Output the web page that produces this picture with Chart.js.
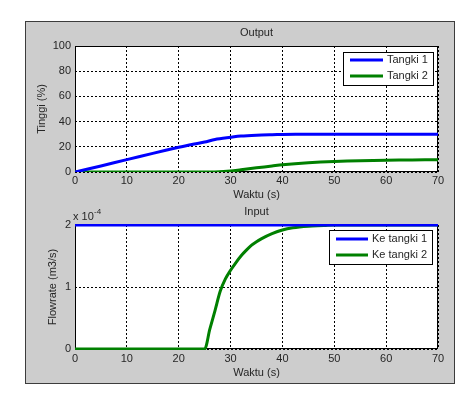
<!DOCTYPE html>
<html>
<head>
<meta charset="utf-8">
<script src="https://cdn.jsdelivr.net/npm/chart.js@4.4.1/dist/chart.umd.min.js"></script>
<style>
  body { margin: 0; background: #fff; width: 476px; height: 405px; position: relative; overflow: hidden; }
  #panel { position: absolute; left: 25px; top: 21px; width: 430px; height: 363px; box-sizing: border-box;
           background: #cdcdcd; border: 1px solid #3c3c3c; }
  .wrap { position: absolute; left: 25px; width: 429px; }
  #w1 { top: 21px; height: 182px; }
  #w2 { top: 203px; height: 180px; }
</style>
</head>
<body>
<div id="panel"></div>
<div class="wrap" id="w1"><canvas id="c1"></canvas></div>
<div class="wrap" id="w2"><canvas id="c2"></canvas></div>
<script>
// Output: time (s) and tank levels (%)
const waktu = [0, 5, 10, 15, 20, 23, 25, 27, 30, 32, 35, 38, 40, 45, 50, 55, 60, 65, 70];
const tangki1 = [0, 4.8, 9.8, 14.8, 19.6, 22.2, 23.8, 25.8, 27.5, 28.5, 29.2, 29.6, 29.8, 30, 30, 30, 30, 30, 30];
const tangki2 = [0, 0, 0, 0, 0, 0, 0, 0.1, 0.8, 1.8, 3.3, 4.8, 5.8, 7.3, 8.3, 8.9, 9.3, 9.6, 9.8];
// Input: time (s) and flowrates (m3/s)
const waktuIn = [0, 25, 26, 27, 28, 29, 30, 31, 32, 33, 34, 35, 36, 38, 40, 42, 45, 48, 50, 60, 70];
const keTangki1 = [2e-4, 2e-4, 2e-4, 2e-4, 2e-4, 2e-4, 2e-4, 2e-4, 2e-4, 2e-4, 2e-4, 2e-4, 2e-4, 2e-4, 2e-4, 2e-4, 2e-4, 2e-4, 2e-4, 2e-4, 2e-4];
const keTangki2 = [0, 0, 0.32e-4, 0.62e-4, 0.93e-4, 1.13e-4, 1.27e-4, 1.39e-4, 1.50e-4, 1.59e-4, 1.67e-4, 1.73e-4, 1.78e-4, 1.86e-4, 1.92e-4, 1.955e-4, 1.98e-4, 1.99e-4, 2e-4, 2e-4, 2e-4];
// ticks
const xTicks = [0, 10, 20, 30, 40, 50, 60, 70];
const yTicksOut = [0, 20, 40, 60, 80, 100];
const yTicksIn = [0, 1e-4, 2e-4];

const FONT = "'Liberation Sans', Arial, sans-serif";
const TXT = '#262626';

function pts(xs, ys) { return xs.map((x, i) => ({ x: x, y: ys[i] })); }

// white axes background + box, title, exponent, legend box inside the axes
const matlabAxes = {
  id: 'matlabAxes',
  beforeDraw(chart) {
    const a = chart.chartArea, ctx = chart.ctx;
    ctx.save();
    ctx.fillStyle = '#fff';
    ctx.fillRect(a.left, a.top, a.right - a.left, a.bottom - a.top);
    ctx.restore();
  },
  beforeDatasetsDraw(chart) {
    const a = chart.chartArea, ctx = chart.ctx;
    ctx.save();
    ctx.strokeStyle = '#000';
    ctx.lineWidth = 1;
    ctx.strokeRect(Math.round(a.left) + 0.5, Math.round(a.top) + 0.5, Math.round(a.right - a.left) - 1, Math.round(a.bottom - a.top) - 1);
    ctx.restore();
  },
  afterDraw(chart, args, o) {
    const a = chart.chartArea, ctx = chart.ctx;
    ctx.save();
    ctx.fillStyle = TXT;
    ctx.font = '11px ' + FONT;
    ctx.textAlign = 'center';
    ctx.textBaseline = 'middle';
    ctx.fillText(o.title, (a.left + a.right) / 2, o.titleY);
    if (o.exponent) {
      ctx.textAlign = 'left';
      ctx.textBaseline = 'alphabetic';
      ctx.fillText('x 10', a.left - 2, a.top - 5);
      ctx.font = '8px ' + FONT;
      ctx.fillText('-4', a.left + 19, a.top - 11);
    }
    // legend
    const L = o.legend;
    ctx.fillStyle = '#fff';
    ctx.fillRect(L.x, L.y, L.w, L.h);
    ctx.strokeStyle = '#000';
    ctx.lineWidth = 1;
    ctx.strokeRect(L.x + 0.5, L.y + 0.5, L.w - 1, L.h - 1);
    ctx.font = '11px ' + FONT;
    ctx.textAlign = 'left';
    ctx.textBaseline = 'middle';
    chart.data.datasets.forEach((ds, i) => {
      const yy = L.y + L.row0 + i * L.step;
      ctx.strokeStyle = ds.borderColor;
      ctx.lineWidth = 3;
      ctx.beginPath();
      ctx.moveTo(L.x + 7, yy);
      ctx.lineTo(L.x + 7 + L.line, yy);
      ctx.stroke();
      ctx.fillStyle = TXT;
      ctx.fillText(ds.label, L.x + 11 + L.line, yy);
    });
    ctx.restore();
  }
};

function axisOpts(ticks, min, max, fmt, tickPad, titleText, titlePad, boxSize) {
  return {
    type: 'linear', min: min, max: max,
    afterBuildTicks: s => { s.ticks = ticks.map(v => ({ value: v })); },
    afterFit: s => { if (s.isHorizontal()) s.height = boxSize; else s.width = boxSize; },
    ticks: { color: TXT, font: { family: FONT, size: 11 }, padding: tickPad, maxRotation: 0, autoSkip: false, callback: fmt },
    grid: { color: '#000', lineWidth: 1, drawTicks: false },
    border: { display: false, dash: [2, 2] },
    title: { display: true, text: titleText, color: TXT, font: { family: FONT, size: 11 }, padding: titlePad }
  };
}

Chart.defaults.animation = false;

const x1 = axisOpts(xTicks, 0, 70, v => v, 2, 'Waktu (s)', { top: 0, bottom: 1 }, 31);
const y1 = axisOpts(yTicksOut, 0, 100, v => v, 4, 'Tinggi (%)', { top: 10, bottom: 0 }, 50);

new Chart(document.getElementById('c1'), {
  type: 'line',
  data: {
    datasets: [
      { label: 'Tangki 1', data: pts(waktu, tangki1), borderColor: '#0000ff', borderWidth: 3, pointRadius: 0, tension: 0.3 },
      { label: 'Tangki 2', data: pts(waktu, tangki2), borderColor: '#008000', borderWidth: 3, pointRadius: 0, tension: 0.3 }
    ]
  },
  options: {
    responsive: true, maintainAspectRatio: false,
    layout: { padding: { left: 0, top: 25, right: 16, bottom: 0 } },
    scales: { x: x1, y: y1 },
    plugins: {
      legend: { display: false }, tooltip: { enabled: false },
      matlabAxes: { title: 'Output', titleY: 12, legend: { x: 318, y: 31, w: 91, h: 34, row0: 8, step: 16, line: 33 } }
    }
  },
  plugins: [matlabAxes]
});

const x2 = axisOpts(xTicks, 0, 70, v => v, 3, 'Waktu (s)', { top: 0, bottom: 3 }, 34);
const y2 = axisOpts(yTicksIn, 0, 2e-4, v => Math.round(v * 1e4), 4, 'Flowrate (m3/s)', { top: 21, bottom: 0 }, 50);

new Chart(document.getElementById('c2'), {
  type: 'line',
  data: {
    datasets: [
      { label: 'Ke tangki 1', data: pts(waktuIn, keTangki1), borderColor: '#0000ff', borderWidth: 3, pointRadius: 0, clip: 1 },
      { label: 'Ke tangki 2', data: pts(waktuIn, keTangki2), borderColor: '#008000', borderWidth: 3, pointRadius: 0, cubicInterpolationMode: 'monotone', clip: 1 }
    ]
  },
  options: {
    responsive: true, maintainAspectRatio: false,
    layout: { padding: { left: 0, top: 22, right: 16, bottom: 0 } },
    scales: { x: x2, y: y2 },
    plugins: {
      legend: { display: false }, tooltip: { enabled: false },
      matlabAxes: { title: 'Input', titleY: 9, exponent: true, legend: { x: 304, y: 27, w: 104, h: 35, row0: 9, step: 16, line: 32 } }
    }
  },
  plugins: [matlabAxes]
});
</script>
</body>
</html>
